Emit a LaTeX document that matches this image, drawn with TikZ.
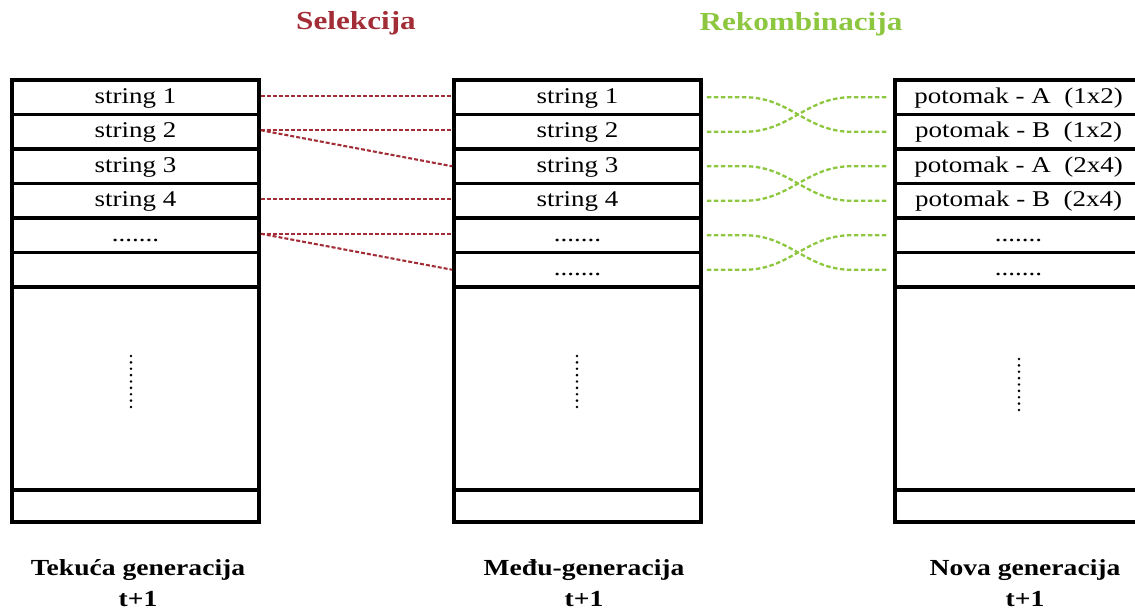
\documentclass[tikz,border=0pt]{standalone}
\usepackage{fontspec}
\setmainfont{Liberation Serif}[FakeStretch=1.2]
\definecolor{selred}{RGB}{163,45,55}
\definecolor{rekgreen}{RGB}{141,198,63}
\tikzset{
  cell/.style={draw, line width=3.6pt, minimum width=247pt, minimum height=34.5pt,
    inner sep=0pt, outer sep=auto, text height=16pt, text depth=4pt,
    font=\fontsize{22.5}{26}\selectfont},
  bigcell/.style={cell, minimum height=203pt},
  endcell/.style={cell, minimum height=32pt},
  sel/.style={draw=selred, line width=2.1pt, dash pattern=on 4pt off 2pt},
  rek/.style={draw=rekgreen, line width=2.3pt, dash pattern=on 4.5pt off 2.5pt},
  title/.style={font=\fontsize{26}{30}\selectfont\bfseries, anchor=base, inner sep=0pt},
  genlabel/.style={font=\fontsize{23}{31}\selectfont\bfseries, anchor=north, align=center, inner sep=0pt},
  vdot/.style={fill=black}
}
\begin{document}
\begin{tikzpicture}[x=1pt,y=-1pt]
\useasboundingbox (0,0) rectangle (1135,612);
% left column
\node[cell] (L1) at (135.5,97.25) {string 1};
\node[cell] (L2) at (135.5,131.75) {string 2};
\node[cell] (L3) at (135.5,166.25) {string 3};
\node[cell] (L4) at (135.5,200.75) {string 4};
\node[cell] (L5) at (135.5,235.25) {.......};
\node[cell] (L6) at (135.5,269.75) {};
\node[bigcell] (LB) at (135.5,388.5) {};
\node[endcell] (LE) at (135.5,506) {};
% middle column
\node[cell] (M1) at (577.5,97.25) {string 1};
\node[cell] (M2) at (577.5,131.75) {string 2};
\node[cell] (M3) at (577.5,166.25) {string 3};
\node[cell] (M4) at (577.5,200.75) {string 4};
\node[cell] (M5) at (577.5,235.25) {.......};
\node[cell] (M6) at (577.5,269.75) {.......};
\node[bigcell] (MB) at (577.5,388.5) {};
\node[endcell] (ME) at (577.5,506) {};
% right column
\node[cell] (R1) at (1018.5,97.25) {potomak - A~~(1x2)};
\node[cell] (R2) at (1018.5,131.75) {potomak - B~~(1x2)};
\node[cell] (R3) at (1018.5,166.25) {potomak - A~~(2x4)};
\node[cell] (R4) at (1018.5,200.75) {potomak - B~~(2x4)};
\node[cell] (R5) at (1018.5,235.25) {.......};
\node[cell] (R6) at (1018.5,269.75) {.......};
\node[bigcell] (RB) at (1018.5,388.5) {};
\node[endcell] (RE) at (1018.5,506) {};
% vertical dots
\foreach \i in {0,...,8} {
  \fill[vdot] (131,{356+6.375*\i}) circle (1.4pt);
  \fill[vdot] (577,{356+6.375*\i}) circle (1.4pt);
  \fill[vdot] (1019,{359+6.375*\i}) circle (1.4pt);
}
% selection lines
\draw[sel] ([yshift=1.5pt]L1.east) -- ([yshift=1.5pt]M1.west);
\draw[sel] ([yshift=1.5pt]L2.east) -- ([yshift=1.5pt]M2.west);
\draw[sel] ([yshift=1.5pt]L2.east) -- (M3.west);
\draw[sel] ([yshift=1.5pt]L4.east) -- ([yshift=1.5pt]M4.west);
\draw[sel] ([yshift=1.5pt]L5.east) -- ([yshift=1.5pt]M5.west);
\draw[sel] ([yshift=1.5pt]L5.east) -- (M6.west);
% recombination curves
\foreach \a/\b in {1/2,2/1,3/4,4/3,5/6,6/5} {
  \draw[rek] ([xshift=4pt]M\a.east) -- ++(38,0)
    .. controls +(45,0) and +(-45,0) .. ([xshift=-42pt]R\b.west)
    -- ([xshift=-5pt]R\b.west);
}
% titles
\node[title, text=selred] (tsel) at (356,30) {Selekcija};
\node[title, text=rekgreen] (trek) at (801,31) {Rekombinacija};
% bottom labels
\node[genlabel] (gl) at (138,559) {Tekuća generacija\\t+1};
\node[genlabel] (gm) at (584,559) {Među-generacija\\t+1};
\node[genlabel] (gr) at (1025,559) {Nova generacija\\t+1};
\end{tikzpicture}
\end{document}
